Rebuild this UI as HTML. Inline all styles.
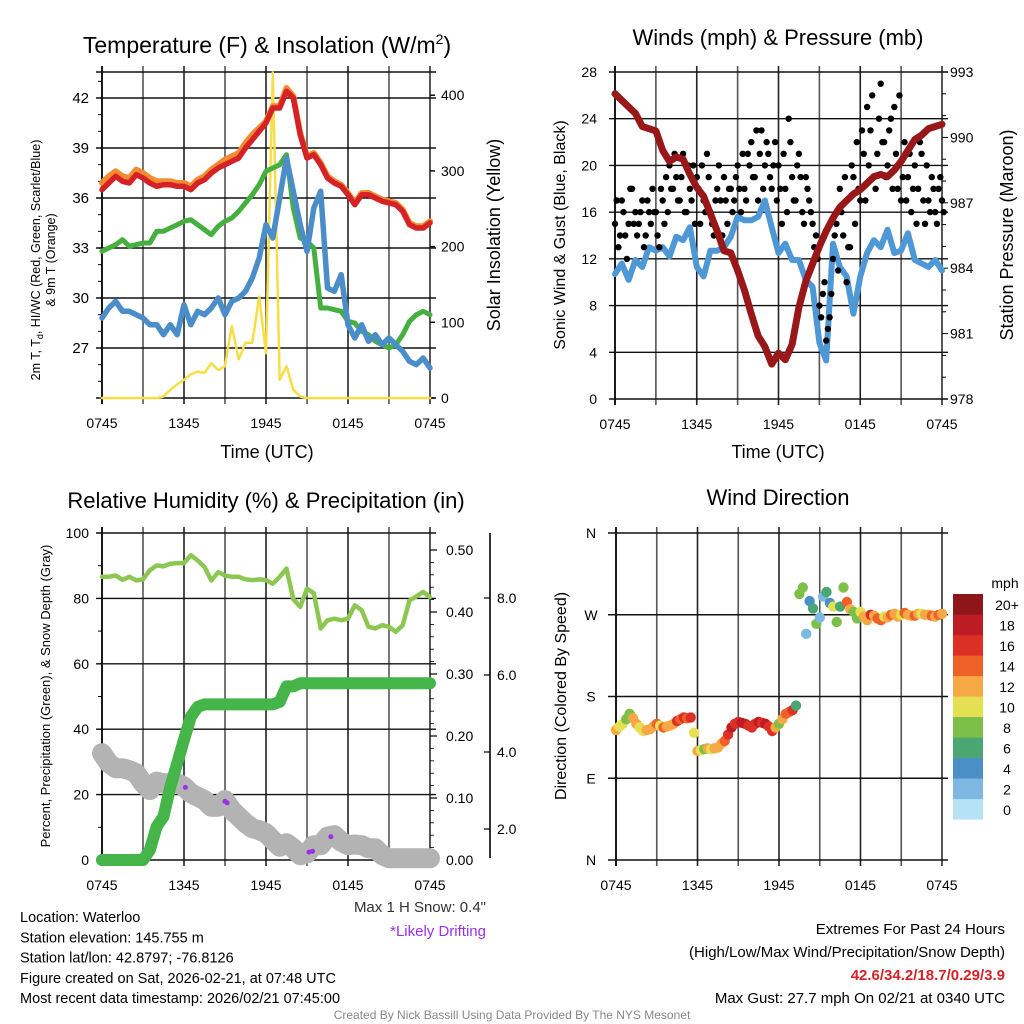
<!DOCTYPE html>
<html><head><meta charset="utf-8">
<style>
html,body{margin:0;padding:0;background:#fff;}
svg{display:block;font-family:"Liberation Sans",Arial,sans-serif;}
</style></head>
<body>
<svg id="chart" width="1024" height="1024" viewBox="0 0 1024 1024" xmlns="http://www.w3.org/2000/svg"></svg>
<script>
// ---------- DATA (half-hour steps, 0745 -> 0745 UTC) ----------
const xTickLabels = ["0745","1345","1945","0145","0745"];
const tempTicks = [27,30,33,36,39,42];
const solarTicks = [0,100,200,300,400];
const windTicks = [0,4,8,12,16,20,24,28];
const presTicks = [978,981,984,987,990,993];
const rhTicks = [0,20,40,60,80,100];
const precipTicks = [0,0.1,0.2,0.3,0.4,0.5];
const snowTicks = [2,4,6,8];
const dirTicks = ["N","E","S","W","N"];
const speedBins = ["0","2","4","6","8","10","12","14","16","18","20+"];

const temp2m = [36.5,36.9,37.3,37.0,36.9,37.4,37.2,36.9,36.7,36.8,36.8,36.7,36.7,36.5,36.9,37.1,37.5,37.8,38.0,38.2,38.4,39.0,39.5,40.0,40.5,41.4,41.4,42.4,42.0,39.8,38.4,38.6,38.0,37.2,36.9,36.7,36.2,35.6,36.2,36.2,36.0,35.8,35.7,35.6,35.2,34.4,34.2,34.2,34.5];
const temp9m = [36.9,37.3,37.6,37.3,37.2,37.7,37.5,37.2,37.0,37.0,37.0,36.9,36.9,36.7,37.1,37.3,37.7,38.0,38.3,38.5,38.7,39.3,39.8,40.2,40.6,41.5,41.5,42.6,42.1,39.9,38.5,38.7,38.1,37.3,37.0,36.8,36.3,35.7,36.3,36.3,36.1,35.9,35.8,35.7,35.3,34.5,34.3,34.3,34.6];
const dewpoint = [32.8,33.0,33.2,33.5,33.1,33.2,33.3,33.3,34.0,34.0,34.2,34.4,34.6,34.7,34.4,34.1,33.8,34.3,34.6,34.8,35.2,35.7,36.2,36.8,37.6,37.8,38.0,38.6,35.4,33.6,33.4,33.0,29.4,29.4,29.3,29.2,28.6,28.5,28.0,27.8,27.4,27.2,27.0,27.2,27.8,28.6,29.0,29.2,29.0];
const windChill = [28.8,29.4,29.8,29.2,29.2,29.0,28.8,28.4,28.4,27.8,28.4,27.8,29.6,28.4,29.2,29.0,29.4,30.0,29.0,29.8,30.0,30.4,31.2,32.4,34.4,33.6,36.0,38.4,36.4,34.4,32.8,35.4,36.4,30.6,30.4,31.4,28.4,27.6,28.4,27.4,27.8,27.2,27.6,27.2,26.8,26.2,26.0,26.4,25.8];
const solar = [0,0,0,0,0,0,0,0,0,2,11,18,24,31,35,33,46,37,42,95,51,73,73,134,59,430,24,42,11,2,0,0,0,0,0,0,0,0,0,0,0,0,0,0,0,0,0,0,0];

const windSpeed = [10.7,11.6,10.2,11.9,11.3,13.0,12.7,13.0,12.2,13.9,13.6,14.7,11.3,10.5,12.7,12.7,13.0,13.9,15.6,15.3,15.3,15.6,17.0,14.7,12.5,13.3,11.9,11.9,10.2,9.6,4.8,3.3,13.3,11.3,10.5,7.3,10.5,12.5,13.6,13.0,14.5,12.5,12.7,14.2,11.9,11.6,11.3,11.9,11.0];
const pressure = [992.0,991.7,991.4,991.1,990.5,990.4,990.3,989.4,988.9,989.1,989.0,988.3,987.7,987.3,986.5,985.7,984.8,984.7,983.9,983.0,981.9,980.9,980.4,979.6,980.1,979.8,980.5,982.2,983.4,984.2,985.0,985.7,986.3,986.8,987.1,987.4,987.6,987.9,988.2,988.3,988.2,988.5,988.9,989.4,989.9,990.1,990.4,990.5,990.6];
// gusts at quarter-hour steps (97 values each)
const gusts = [15,13,17,14,15,18,16,15,17,14,16,18,16,13,17,19,
20,18,19,17,21,16,18,20,19,15,17,21,16,14,18,17,
19,15,18,17,20,16,18,21,22,19,17,23,20,21,18,22,
20,15,18,24,19,17,21,16,19,17,15,14,8,9,5,7,
12,15,18,14,10,13,19,22,17,21,25,23,19,21,27,22,
20,24,25,18,17,22,19,16,20,18,21,15,17,19,16,18,17];
const gustsAlt = [17,14,16,12,18,15,14,16,13,17,15,16,14,18,15,16,
18,21,17,19,16,20,17,15,18,20,16,19,15,17,20,14,
17,18,16,19,18,21,17,20,19,23,21,18,22,19,20,17,
18,21,16,22,17,20,19,15,18,16,13,12,7,10,6,9,
14,11,16,19,13,20,15,18,23,17,20,26,18,24,22,19,
23,18,21,26,19,17,21,18,15,22,17,20,16,18,15,19,16];

const humidity = [86.6,86.6,87.0,85.7,86.6,85.5,85.8,88.6,90.1,89.8,90.6,90.8,90.8,93.2,91.6,89.6,85.5,88.0,87.0,86.6,86.6,85.8,85.6,85.8,85.6,84.5,86.6,89.1,79.8,77.4,83.0,81.6,70.8,73.3,73.8,73.3,73.8,77.9,76.4,71.3,70.8,71.8,71.3,69.8,71.8,79.4,80.6,82.0,80.4];
const precip = [0,0,0,0,0,0,0,0.016,0.054,0.07,0.118,0.156,0.194,0.231,0.247,0.251,0.251,0.251,0.251,0.251,0.251,0.251,0.251,0.251,0.251,0.251,0.255,0.28,0.28,0.285,0.285,0.285,0.285,0.285,0.285,0.285,0.285,0.285,0.285,0.285,0.285,0.285,0.285,0.285,0.285,0.285,0.285,0.285,0.285];
const snowDepth = [3.97,3.71,3.58,3.58,3.53,3.45,3.19,3.01,3.23,3.19,3.19,3.19,3.10,2.93,2.84,2.75,2.58,2.58,2.75,2.49,2.32,2.15,2.02,1.97,1.89,1.71,1.54,1.63,1.50,1.32,1.37,1.58,1.58,1.80,1.84,1.67,1.58,1.60,1.58,1.50,1.50,1.32,1.24,1.24,1.24,1.24,1.24,1.24,1.24];
const driftTimes = [12.2,18.0,18.3,30.3,30.8,33.5];
const driftValues = [3.08,2.72,2.68,1.40,1.42,1.80];

// wind direction at quarter-hour steps (97)
const windDir = [143,147,150,155,161,156,150,146,142,143,144,147,150,148,146,147,148,150,153,155,157,156,157,140,120,121,122,123,122,123,124,128,131,138,146,150,152,151,150,148,146,150,152,151,150,147,142,146,150,155,161,163,165,
170,293,300,249,285,277,260,267,290,295,283,279,262,279,300,284,276,273,266,273,268,264,270,269,266,264,268,267,270,271,268,270,272,270,269,269,271,271,270,270,269,268,270,271];
const dirSpeed = [12,10,11,9,8,12,12,11,10,12,13,12,14,11,14,12,12,13,16,14,16,15,16,11,12,10,9,12,11,12,12,13,14,16,18,17,17,18,18,16,16,17,18,17,19,16,16,12,8,13,14,15,16,
6,8,9,3,4,7,9,2,3,6,5,10,8,6,9,14,12,9,8,10,13,12,16,12,14,15,11,12,14,13,12,10,15,12,13,14,12,11,12,13,14,12,15,12];

// ---------- RENDER ----------
const svg = document.getElementById('chart');
const NS = 'http://www.w3.org/2000/svg';
function mk(tag, attrs, parent){
  const e = document.createElementNS(NS, tag);
  for (const k in attrs) e.setAttribute(k, attrs[k]);
  (parent||svg).appendChild(e);
  return e;
}
function txt(x,y,s,size,anchor,fill,parent,extra){
  const e = mk('text',{x:x,y:y,'font-size':size,'text-anchor':anchor||'middle',fill:fill||'#000'},parent);
  if(extra) for(const k in extra) e.setAttribute(k, extra[k]);
  e.textContent = s;
  return e;
}
const P1={L:102,R:430,T:72,B:398}, P2={L:615,R:942,T:72,B:399}, P3={L:102,R:430,T:533,B:860}, P4={L:616,R:942,T:533,B:860};
const xs = (P,i)=> P.L + i*(P.R-P.L)/48;
const xq = (P,i)=> P.L + i*(P.R-P.L)/96;
const yTemp = v=> 398 - (v-24)*16.667;
const ySolar = v=> 398 - v*0.757;
const yWind = v=> 399 - v*327/28;
const yPres = v=> 399 - (v-978)*327/15;
const yRH = v=> 860 - v*3.27;
const yPr = v=> 860 - v*620;
const ySn = v=> 829 - (v-2)*38.5;
const yDir = v=> 860 - v*327/360;
const dirColors = ["#b6e2f5","#7db8e2","#4a8fc6","#4aa673","#7cc04a","#e5e052","#f6a844","#f0612a","#dc3026","#bd1c24","#8e1619"];

function frame(P,name){
  const g = mk('g',{});
  
  
  for(let k=1;k<8;k++){
    const x = P.L + k*(P.R-P.L)/8;
    mk('line',{x1:x,x2:x,y1:P.T-6,y2:P.B+6,stroke:k%2?'#555':'#222','stroke-width':1.6},g);
  }
  mk('line',{x1:P.L,x2:P.L,y1:P.T-6,y2:P.B+6,stroke:'#000','stroke-width':1.8},g);
  mk('line',{x1:P.R,x2:P.R,y1:P.T-6,y2:P.B+6,stroke:'#444','stroke-width':1.8},g);
  xTickLabels.forEach((s,k)=>{
    const t = txt(P.L + k*(P.R-P.L)/4, P.B+30, s, 14, 'middle', '#000', svg);
    
    
  });
  return g;
}
function hgrid(P,ys,g,ext){
  ys.forEach(y=>mk('line',{x1:P.L-(ext||6),x2:P.R+6,y1:y,y2:y,stroke:'#111','stroke-width':1.4},g));
}
function polyline(P,arr,yf,color,w,name){
  const pts = arr.map((v,i)=> xs(P,i).toFixed(1)+','+yf(v).toFixed(1)).join(' ');
  const e = mk('polyline',{points:pts,fill:'none',stroke:color,'stroke-width':w,'stroke-linejoin':'round','stroke-linecap':'round'});
  
  
  return e;
}

// ---- Panel 1 ----
let g1 = frame(P1,'temperature');
hgrid(P1, tempTicks.map(yTemp).concat([P1.T,P1.B]), g1);
tempTicks.forEach(v=>{ const t=txt(89,yTemp(v)+5,String(v),15,'end');   });
for(let v=25;v<=43;v++) mk('line',{x1:P1.L-4,x2:P1.L,y1:yTemp(v),y2:yTemp(v),stroke:'#000','stroke-width':1});
solarTicks.forEach(v=>{ const t=txt(441,ySolar(v)+5,String(v),14,'start');   mk('line',{x1:P1.R,x2:P1.R+5,y1:ySolar(v),y2:ySolar(v),stroke:'#000','stroke-width':1.4}); });
polyline(P1,solar,ySolar,'#f7de48',2.5,'solar-insolation-line');
polyline(P1,dewpoint,yTemp,'#45b03f',5,'dewpoint-line');
polyline(P1,windChill,yTemp,'#4a8dc8',5.5,'windchill-line');
polyline(P1,temp9m,yTemp,'#f58a30',6,'temp-9m-line');
polyline(P1,temp2m,yTemp,'#d42226',5.5,'temp-2m-line');
let t;
t=txt(267,53,'',23); t.innerHTML='Temperature (F) &amp; Insolation (W/m<tspan dy="-9" font-size="14">2</tspan><tspan dy="9">)</tspan>';
 
t=txt(267,458,'Time (UTC)',18);  
t=txt(0,0,'',12.5,'middle','#000',svg,{transform:'translate(40,260) rotate(-90)'}); t.innerHTML='2m T, T<tspan dy="3" font-size="9">d</tspan><tspan dy="-3">, HI/WC (Red, Green, Scarlet/Blue)</tspan>';
 
t=txt(0,0,'& 9m T (Orange)',12.5,'middle','#000',svg,{transform:'translate(55,260) rotate(-90)'});
 
t=txt(0,0,'Solar Insolation (Yellow)',18,'middle','#000',svg,{transform:'translate(500,235) rotate(-90)'});
 

// ---- Panel 2 ----
let g2 = frame(P2,'winds');
hgrid(P2, windTicks.map(yWind), g2);
windTicks.forEach(v=>{ const t=txt(597,yWind(v)+5,String(v),14,'end');   });
presTicks.forEach(v=>{ const t=txt(950,yPres(v)+5,String(v),14,'start');   });
for(let v=978;v<=993;v++) mk('line',{x1:P2.R,x2:P2.R+(v%3===0?6:4),y1:yPres(v),y2:yPres(v),stroke:'#000','stroke-width':1});
polyline(P2,windSpeed,yWind,'#4f98d6',6,'sonic-wind-line');
gusts.forEach((v,i)=>{
  const c = mk('circle',{cx:xq(P2,i).toFixed(1),cy:yWind(v).toFixed(1),r:3.2,fill:'#000'});
  
  
});
gustsAlt.forEach((v,i)=>{
  const c = mk('circle',{cx:(xq(P2,i)+1.7).toFixed(1),cy:yWind(v).toFixed(1),r:3.2,fill:'#000'});
  
  
});
polyline(P2,pressure,yPres,'#98181a',7,'pressure-line');
t=txt(778,45,'Winds (mph) & Pressure (mb)',22);  
t=txt(778,458,'Time (UTC)',18);  
t=txt(0,0,'Sonic Wind & Gust (Blue, Black)',16,'middle','#000',svg,{transform:'translate(565,235) rotate(-90)'});
 
t=txt(0,0,'Station Pressure (Maroon)',18,'middle','#000',svg,{transform:'translate(1013,235) rotate(-90)'});
 

// ---- Panel 3 ----
let g3 = frame(P3,'humidity');
hgrid(P3, rhTicks.map(yRH), g3);
rhTicks.forEach(v=>{ const t=txt(89,yRH(v)+5,String(v),14,'end');   });
for(let v=0;v<=100;v+=10) mk('line',{x1:P3.L-4,x2:P3.L,y1:yRH(v),y2:yRH(v),stroke:'#000','stroke-width':1});
precipTicks.forEach(v=>{ const t=txt(446,yPr(v)+5,v.toFixed(2),14,'start');   mk('line',{x1:P3.R,x2:P3.R+7,y1:yPr(v),y2:yPr(v),stroke:'#000','stroke-width':1.2}); });
for(let v=0;v<=0.52;v+=0.02) mk('line',{x1:P3.R,x2:P3.R+4,y1:yPr(v),y2:yPr(v),stroke:'#000','stroke-width':0.8});
mk('line',{x1:490,x2:490,y1:533,y2:858,stroke:'#000','stroke-width':1.6});
snowTicks.forEach(v=>{ const t=txt(497,ySn(v)+5,v.toFixed(1),14,'start');   mk('line',{x1:484,x2:490,y1:ySn(v),y2:ySn(v),stroke:'#000','stroke-width':1.2}); });
polyline(P3,snowDepth,ySn,'#b3b3b3',20,'snow-depth-line');
driftTimes.forEach((tm,k)=>{
  const c = mk('circle',{cx:(P3.L+tm*(P3.R-P3.L)/48).toFixed(1),cy:ySn(driftValues[k]).toFixed(1),r:2.5,fill:'#9b30e8'});
  
  
});
polyline(P3,precip,yPr,'#45b549',12,'precipitation-line');
polyline(P3,humidity,yRH,'#8cc751',4.5,'humidity-line');
t=txt(266,508,'Relative Humidity (%) & Precipitation (in)',22);  
t=txt(0,0,'Percent, Precipitation (Green), & Snow Depth (Gray)',13,'middle','#000',svg,{transform:'translate(50,696) rotate(-90)'});
 
t=txt(486,912,'Max 1 H Snow: 0.4"',15,'end','#333');  
t=txt(486,936,'*Likely Drifting',15,'end','#9b30e8');  

// ---- Panel 4 ----
let g4 = frame(P4,'direction');
hgrid(P4, [0,90,180,270,360].map(yDir), g4, 8);
dirTicks.forEach((s,k)=>{ const t=txt(591,yDir(k*90)+5,s,14,'middle');   });
windDir.forEach((v,i)=>{
  const idx = Math.min(10, Math.floor(dirSpeed[i]/2));
  const c = mk('circle',{cx:xq(P4,i).toFixed(1),cy:yDir(v).toFixed(1),r:5.2,fill:dirColors[idx]});
  
  
});
speedBins.forEach((s,k)=>{
  const y0 = 594 + (10-k)*20.5;
  const r = mk('rect',{x:953,y:y0,width:30,height:20.6,fill:dirColors[k]});
  
  
  const tt = txt(1007,y0+16,s,14,'middle');
  
  
});
t=txt(1005,588,'mph',14,'middle');  
t=txt(778,505,'Wind Direction',22);  
t=txt(0,0,'Direction (Colored By Speed)',16,'middle','#000',svg,{transform:'translate(566,696) rotate(-90)'});
 

// ---- Footer text ----
const infoLines = ['Location: Waterloo','Station elevation: 145.755 m','Station lat/lon: 42.8797; -76.8126','Figure created on Sat, 2026-02-21, at 07:48 UTC','Most recent data timestamp: 2026/02/21 07:45:00'];
infoLines.forEach((s,k)=>{ const tt=txt(20,922+k*20.3,s,14.5,'start');   });
t=txt(1005,934,'Extremes For Past 24 Hours',15,'end');  
t=txt(1005,957,'(High/Low/Max Wind/Precipitation/Snow Depth)',15,'end');  
t=txt(1005,980,'42.6/34.2/18.7/0.29/3.9',15,'end','#d42226',svg,{'font-weight':'bold'});  
t=txt(1005,1003,'Max Gust: 27.7 mph On 02/21 at 0340 UTC',15,'end');  
t=txt(512,1019,'Created By Nick Bassill Using Data Provided By The NYS Mesonet',12,'middle','#888');  
</script>
</body></html>
